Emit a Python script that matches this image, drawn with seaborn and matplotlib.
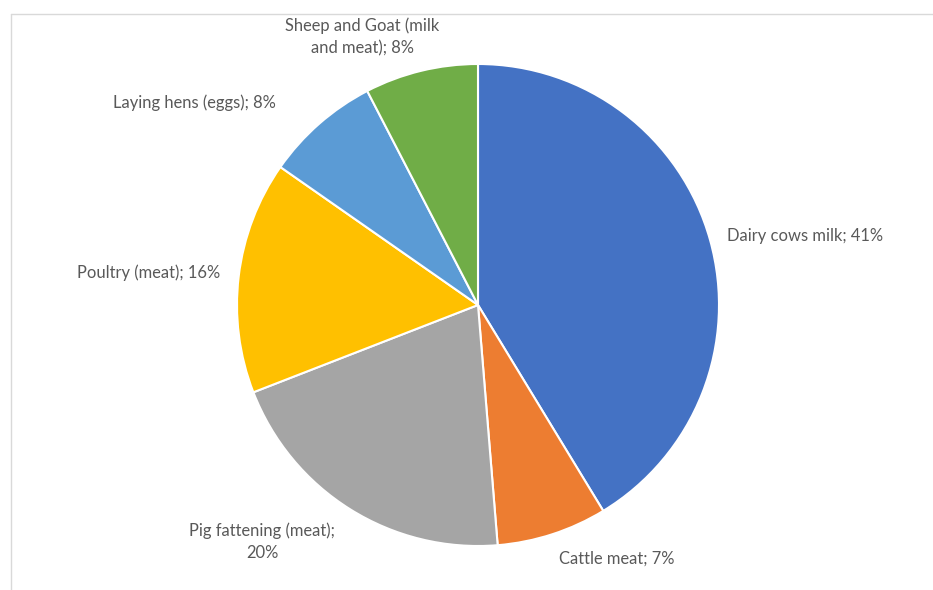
import matplotlib
matplotlib.use("Agg")
import matplotlib.pyplot as plt
from matplotlib.lines import Line2D
import seaborn as sns

# shares in percent, clockwise from 12 o'clock
categories = [
    "Dairy cows milk",
    "Cattle meat",
    "Pig fattening (meat);\n",
    "Poultry (meat)",
    "Laying hens (eggs)",
    "Sheep and Goat (milk\nand meat)",
]
shares = [41.3, 7.4, 20.4, 15.6, 7.7, 7.6]
colors = ["#4472C4", "#ED7D31", "#A5A5A5", "#FFC000", "#5B9BD5", "#70AD47"]

# label anchors in pie data units (radius = 1) and alignment
label_pos = [(1.033, 0.286), (0.577, -1.054), (-0.896, -0.983),
             (-1.071, 0.133), (-0.838, 0.838), (-0.481, 1.112)]
label_ha = ["left", "center", "center", "right", "right", "center"]

sns.set_theme(style="white")
plt.rcParams["font.family"] = ["Lato", "DejaVu Sans"]

W, H = 933, 590
fig = plt.figure(figsize=(W / 100, H / 100), dpi=100)
fig.patch.set_facecolor("white")

# chart area border (top and left visible)
fig.add_artist(Line2D([10.5 / W, 10.5 / W], [0, 1 - 13.5 / H],
                      transform=fig.transFigure, color="#d9d9d9", lw=1))
fig.add_artist(Line2D([10.5 / W, 1], [1 - 13.5 / H, 1 - 13.5 / H],
                      transform=fig.transFigure, color="#d9d9d9", lw=1))

cx, cy, r = 478, 305, 241
ax = fig.add_axes([(cx - r) / W, (H - cy - r) / H, 2 * r / W, 2 * r / H])
ax.pie(shares, colors=colors, startangle=90, counterclock=False,
       wedgeprops=dict(edgecolor="white", linewidth=1.5))
ax.set_xlim(-1, 1)
ax.set_ylim(-1, 1)
ax.set_aspect("equal")
ax.axis("off")

for name, v, (x, y), ha in zip(categories, shares, label_pos, label_ha):
    sep = "" if name.endswith("\n") else "; "
    ax.text(x, y, f"{name}{sep}{v:.0f}%", ha=ha, va="center",
            multialignment="center", fontsize=11.9, color="#595959",
            linespacing=1.5, clip_on=False)

fig.savefig("out.png", dpi=100, facecolor="white")
